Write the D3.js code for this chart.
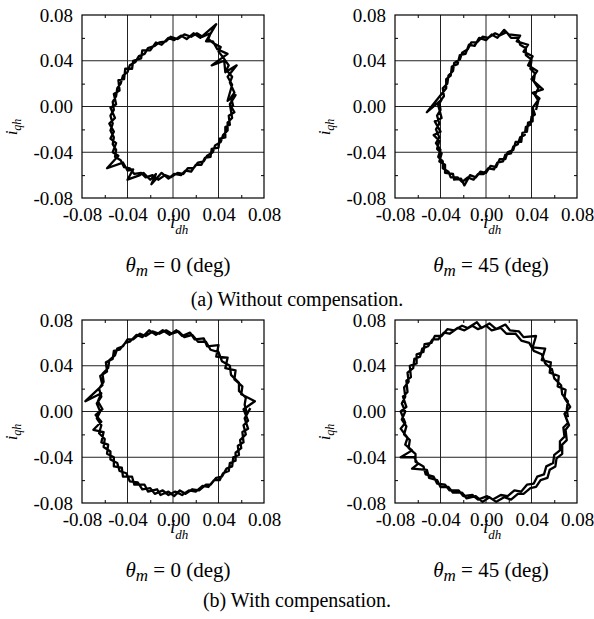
<!DOCTYPE html>
<html>
<head>
<meta charset="utf-8">
<script src="https://cdn.jsdelivr.net/npm/d3@7"></script>
<style>
  body { margin: 0; background: #fff; }
  text { font-family: "Liberation Serif", "Times New Roman", serif; fill: #000; }
</style>
</head>
<body>
<svg id="chart" width="594" height="619"></svg>
<script>
// axis ticks, shared by every panel
var ticks = [-0.08, -0.04, 0.00, 0.04, 0.08];
var tickLabels = ["-0.08", "-0.04", "0.00", "0.04", "0.08"];
var gridTicks = [-0.04, 0.00, 0.04];
var minorTicks = [-0.06, -0.02, 0.02, 0.06];
var angles = ["0", "45", "0", "45"];
var captions = ["(a) Without compensation.", "(b) With compensation."];

// (a) without compensation, theta_m = 0 deg  [i_dh, i_qh]
var noComp0 = [
  [0.053,0.000],[0.051,0.008],[0.054,0.012],[0.050,0.021],[0.052,0.026],[0.047,0.032],[0.049,0.036],[0.044,0.043],
  [0.040,0.048],[0.042,0.052],[0.036,0.055],[0.031,0.059],[0.033,0.064],[0.026,0.061],[0.021,0.064],[0.016,0.061],
  [0.010,0.063],[0.004,0.059],[-0.002,0.061],[-0.006,0.057],[-0.012,0.056],[-0.016,0.053],[-0.022,0.051],[-0.025,0.046],
  [-0.030,0.044],[-0.033,0.039],[-0.038,0.036],[-0.040,0.030],[-0.044,0.027],[-0.046,0.020],[-0.049,0.016],[-0.050,0.009],
  [-0.053,0.004],[-0.052,-0.003],[-0.055,-0.008],[-0.053,-0.015],[-0.055,-0.021],[-0.052,-0.027],[-0.053,-0.033],[-0.050,-0.038],
  [-0.051,-0.044],[-0.046,-0.047],[-0.043,-0.053],[-0.038,-0.054],[-0.034,-0.059],[-0.028,-0.058],[-0.024,-0.062],[-0.018,-0.060],
  [-0.013,-0.064],[-0.007,-0.060],[-0.002,-0.062],[0.004,-0.058],[0.009,-0.059],[0.013,-0.054],[0.018,-0.054],[0.022,-0.049],
  [0.027,-0.048],[0.030,-0.043],[0.035,-0.040],[0.037,-0.034],[0.042,-0.031],[0.044,-0.025],[0.048,-0.021],[0.048,-0.014],
  [0.052,-0.010],[0.051,-0.004],[0.050,0.002],[0.055,0.010],[0.048,0.005],[0.052,0.019],[0.048,0.026],[0.056,0.036],
  [0.046,0.030],[0.045,0.040],[0.034,0.036],[0.048,0.046],[0.039,0.050],[0.035,0.057],[0.029,0.057],[0.038,0.072],
  [0.024,0.060],[0.018,0.064],[0.012,0.059],[0.007,0.062],[0.001,0.058],[-0.004,0.060],[-0.010,0.054],[-0.015,0.056],
  [-0.020,0.049],[-0.027,0.049],[-0.028,0.042],[-0.035,0.040],[-0.036,0.033],[-0.042,0.033],[-0.043,0.024],[-0.048,0.023],
  [-0.047,0.014],[-0.052,0.011],[-0.050,0.002],[-0.055,-0.001],[-0.051,-0.010],[-0.056,-0.015],[-0.052,-0.022],[-0.055,-0.028],
  [-0.050,-0.032],[-0.053,-0.040],[-0.048,-0.043],[-0.058,-0.054],[-0.044,-0.049],[-0.040,-0.056],[-0.035,-0.055],[-0.040,-0.064],
  [-0.029,-0.060],[-0.026,-0.058],[-0.020,-0.064],[-0.015,-0.059],[-0.019,-0.068],[-0.010,-0.058],[-0.004,-0.063],[0.001,-0.059],
  [0.007,-0.060],[0.011,-0.056],[0.016,-0.057],[0.020,-0.051],[0.025,-0.051],[0.028,-0.045],[0.033,-0.044],[0.034,-0.037],
  [0.040,-0.036],[0.041,-0.028],[0.046,-0.027],[0.046,-0.018],[0.050,-0.016],[0.049,-0.008],[0.054,-0.005],[0.050,0.002]
];

// (a) without compensation, theta_m = 45 deg
var noComp45 = [
  [0.044,-0.003],[0.046,0.005],[0.043,0.010],[0.046,0.016],[0.042,0.022],[0.043,0.029],[0.039,0.033],[0.040,0.041],
  [0.035,0.045],[0.035,0.051],[0.030,0.054],[0.028,0.060],[0.022,0.060],[0.018,0.065],[0.012,0.062],[0.008,0.064],
  [0.002,0.060],[-0.003,0.061],[-0.008,0.056],[-0.013,0.056],[-0.016,0.050],[-0.021,0.047],[-0.023,0.041],[-0.028,0.038],
  [-0.029,0.031],[-0.033,0.027],[-0.034,0.020],[-0.038,0.016],[-0.037,0.009],[-0.041,0.004],[-0.040,-0.003],[-0.043,-0.008],
  [-0.041,-0.015],[-0.044,-0.020],[-0.041,-0.027],[-0.044,-0.032],[-0.040,-0.038],[-0.042,-0.044],[-0.038,-0.048],[-0.038,-0.054],
  [-0.033,-0.057],[-0.031,-0.062],[-0.025,-0.062],[-0.021,-0.066],[-0.016,-0.062],[-0.011,-0.064],[-0.007,-0.059],[-0.002,-0.059],
  [0.002,-0.054],[0.007,-0.055],[0.010,-0.049],[0.015,-0.048],[0.017,-0.042],[0.022,-0.041],[0.024,-0.035],[0.028,-0.033],
  [0.030,-0.027],[0.034,-0.025],[0.035,-0.018],[0.039,-0.016],[0.040,-0.009],[0.043,-0.007],[0.041,-0.001],[0.047,0.007],
  [0.041,0.012],[0.050,0.015],[0.040,0.024],[0.045,0.031],[0.037,0.036],[0.041,0.044],[0.033,0.048],[0.037,0.054],
  [0.027,0.057],[0.030,0.062],[0.020,0.063],[0.016,0.067],[0.010,0.060],[0.005,0.063],[0.000,0.058],[-0.006,0.060],
  [-0.010,0.053],[-0.015,0.054],[-0.018,0.046],[-0.023,0.045],[-0.025,0.037],[-0.030,0.035],[-0.031,0.027],[-0.035,0.024],
  [-0.035,0.016],[-0.052,-0.005],[-0.039,0.006],[-0.042,0.001],[-0.039,-0.010],[-0.045,-0.013],[-0.040,-0.022],[-0.046,-0.025],
  [-0.041,-0.030],[-0.043,-0.037],[-0.039,-0.041],[-0.041,-0.048],[-0.036,-0.051],[-0.036,-0.058],[-0.029,-0.059],[-0.028,-0.064],
  [-0.022,-0.063],[-0.019,-0.069],[-0.014,-0.060],[-0.009,-0.062],[-0.005,-0.057],[0.000,-0.058],[0.004,-0.052],[0.009,-0.053],
  [0.012,-0.046],[0.017,-0.046],[0.019,-0.040],[0.024,-0.038],[0.026,-0.031],[0.031,-0.031],[0.032,-0.023],[0.036,-0.022],
  [0.037,-0.014],[0.041,-0.013],[0.041,-0.001]
];

// (b) with compensation, theta_m = 0 deg
var comp0 = [
  [0.065,-0.002],[0.063,0.006],[0.064,0.012],[0.058,0.018],[0.058,0.025],[0.051,0.032],[0.050,0.040],[0.043,0.044],
  [0.040,0.052],[0.033,0.054],[0.029,0.061],[0.022,0.061],[0.017,0.067],[0.010,0.065],[0.005,0.070],[-0.001,0.068],
  [-0.006,0.071],[-0.012,0.068],[-0.018,0.070],[-0.024,0.066],[-0.029,0.068],[-0.035,0.063],[-0.040,0.063],[-0.044,0.057],
  [-0.049,0.055],[-0.051,0.049],[-0.056,0.045],[-0.057,0.038],[-0.062,0.033],[-0.061,0.026],[-0.065,0.020],[-0.063,0.013],
  [-0.067,0.007],[-0.064,0.000],[-0.067,-0.006],[-0.063,-0.012],[-0.065,-0.019],[-0.060,-0.024],[-0.061,-0.031],[-0.055,-0.035],
  [-0.055,-0.042],[-0.049,-0.045],[-0.047,-0.052],[-0.041,-0.054],[-0.038,-0.061],[-0.031,-0.062],[-0.027,-0.068],[-0.020,-0.067],
  [-0.016,-0.072],[-0.009,-0.069],[-0.004,-0.073],[0.002,-0.070],[0.008,-0.073],[0.014,-0.069],[0.020,-0.070],[0.026,-0.065],
  [0.031,-0.066],[0.036,-0.060],[0.041,-0.060],[0.044,-0.054],[0.049,-0.052],[0.050,-0.045],[0.055,-0.043],[0.055,-0.036],
  [0.060,-0.032],[0.059,-0.025],[0.064,-0.020],[0.062,-0.012],[0.066,-0.008],[0.062,0.002],[0.072,0.009],[0.060,0.015],
  [0.061,0.022],[0.054,0.028],[0.055,0.036],[0.046,0.038],[0.048,0.047],[0.038,0.048],[0.040,0.058],[0.030,0.057],
  [0.027,0.064],[0.019,0.063],[0.015,0.069],[0.008,0.066],[0.003,0.071],[-0.003,0.067],[-0.009,0.071],[-0.015,0.067],
  [-0.021,0.071],[-0.027,0.065],[-0.032,0.067],[-0.038,0.061],[-0.042,0.060],[-0.047,0.054],[-0.052,0.053],[-0.053,0.046],
  [-0.059,0.043],[-0.058,0.035],[-0.064,0.031],[-0.062,0.023],[-0.077,0.009],[-0.063,0.016],[-0.066,0.009],[-0.062,0.002],
  [-0.068,-0.003],[-0.063,-0.009],[-0.070,-0.016],[-0.061,-0.018],[-0.063,-0.027],[-0.057,-0.029],[-0.058,-0.037],[-0.052,-0.040],
  [-0.052,-0.048],[-0.045,-0.049],[-0.044,-0.057],[-0.036,-0.057],[-0.034,-0.064],[-0.025,-0.064],[-0.022,-0.070],[-0.014,-0.068],
  [-0.011,-0.073],[-0.004,-0.070],[0.001,-0.074],[0.006,-0.069],[0.011,-0.072],[0.017,-0.068],[0.023,-0.069],[0.029,-0.064],
  [0.033,-0.064],[0.038,-0.058],[0.043,-0.057],[0.047,-0.050],[0.052,-0.048],[0.053,-0.040],[0.058,-0.038],[0.057,-0.030],
  [0.062,-0.027],[0.061,-0.018],[0.066,-0.015],[0.063,-0.006],[0.068,0.003]
];

// (b) with compensation, theta_m = 45 deg
var comp45 = [
  [0.072,-0.005],[0.071,0.002],[0.072,0.009],[0.067,0.015],[0.066,0.023],[0.060,0.029],[0.058,0.037],[0.052,0.042],
  [0.049,0.050],[0.042,0.053],[0.038,0.060],[0.031,0.062],[0.026,0.068],[0.018,0.068],[0.013,0.073],[0.005,0.071],
  [0.000,0.075],[-0.007,0.072],[-0.012,0.075],[-0.019,0.071],[-0.025,0.073],[-0.032,0.068],[-0.037,0.069],[-0.042,0.063],
  [-0.047,0.063],[-0.051,0.057],[-0.056,0.055],[-0.058,0.048],[-0.063,0.046],[-0.064,0.038],[-0.069,0.034],[-0.068,0.026],
  [-0.072,0.021],[-0.071,0.013],[-0.074,0.007],[-0.071,0.000],[-0.074,-0.007],[-0.070,-0.013],[-0.072,-0.020],[-0.067,-0.025],
  [-0.068,-0.032],[-0.062,-0.037],[-0.062,-0.044],[-0.055,-0.048],[-0.053,-0.055],[-0.046,-0.057],[-0.043,-0.063],[-0.036,-0.064],
  [-0.032,-0.069],[-0.024,-0.069],[-0.020,-0.074],[-0.012,-0.073],[-0.007,-0.077],[0.001,-0.074],[0.006,-0.077],[0.013,-0.073],
  [0.019,-0.074],[0.025,-0.069],[0.031,-0.070],[0.036,-0.064],[0.042,-0.063],[0.045,-0.057],[0.051,-0.055],[0.053,-0.048],
  [0.059,-0.045],[0.060,-0.038],[0.065,-0.034],[0.065,-0.026],[0.069,-0.022],[0.068,-0.014],[0.072,-0.010],[0.069,-0.002],
  [0.074,0.004],[0.069,0.012],[0.070,0.019],[0.063,0.022],[0.064,0.031],[0.056,0.034],[0.057,0.043],[0.049,0.045],
  [0.052,0.055],[0.041,0.056],[0.044,0.066],[0.033,0.065],[0.029,0.070],[0.021,0.071],[0.017,0.076],[0.009,0.072],
  [0.003,0.077],[-0.004,0.073],[-0.008,0.078],[-0.016,0.073],[-0.021,0.075],[-0.028,0.071],[-0.034,0.072],[-0.039,0.066],
  [-0.045,0.066],[-0.048,0.060],[-0.054,0.059],[-0.055,0.052],[-0.061,0.050],[-0.061,0.042],[-0.067,0.040],[-0.066,0.030],
  [-0.070,0.027],[-0.069,0.017],[-0.073,0.013],[-0.070,0.004],[-0.075,0.000],[-0.071,-0.010],[-0.075,-0.015],[-0.069,-0.023],
  [-0.071,-0.029],[-0.065,-0.034],[-0.075,-0.040],[-0.063,-0.040],[-0.060,-0.046],[-0.065,-0.050],[-0.052,-0.051],[-0.050,-0.058],
  [-0.043,-0.060],[-0.040,-0.066],[-0.033,-0.066],[-0.029,-0.071],[-0.021,-0.071],[-0.017,-0.076],[-0.009,-0.074],[-0.003,-0.079],
  [0.003,-0.075],[0.009,-0.079],[0.016,-0.075],[0.022,-0.077],[0.028,-0.072],[0.033,-0.072],[0.039,-0.067],[0.044,-0.066],
  [0.048,-0.060],[0.054,-0.058],[0.056,-0.051],[0.061,-0.048],[0.062,-0.041],[0.067,-0.037],[0.067,-0.029],[0.071,-0.025],
  [0.070,-0.016],[0.073,-0.012],[0.069,-0.002]
];

var panels = [
  { data: noComp0,  left: 82,  top: 15,  angle: angles[0] },
  { data: noComp45, left: 395, top: 15,  angle: angles[1] },
  { data: comp0,    left: 82,  top: 320, angle: angles[2] },
  { data: comp45,   left: 395, top: 320, angle: angles[3] }
];

var W = 182, H = 183;
var svg = d3.select("#chart");

var x = d3.scaleLinear().domain([-0.08, 0.08]).range([0, W]);
var y = d3.scaleLinear().domain([-0.08, 0.08]).range([H, 0]);

var line = d3.line()
    .x(function (d) { return x(d[0]); })
    .y(function (d) { return y(d[1]); });

function label(i) { return tickLabels[i]; }

panels.forEach(function (p) {
    var g = svg.append("g")
        .attr("transform", "translate(" + p.left + "," + p.top + ")");

    // grid
    g.append("g").selectAll("line")
        .data(gridTicks)
      .enter().append("line")
        .attr("x1", function (d) { return x(d); })
        .attr("x2", function (d) { return x(d); })
        .attr("y1", 0).attr("y2", H)
        .attr("stroke", "#222").attr("stroke-width", 1);
    g.append("g").selectAll("line")
        .data(gridTicks)
      .enter().append("line")
        .attr("y1", function (d) { return y(d); })
        .attr("y2", function (d) { return y(d); })
        .attr("x1", 0).attr("x2", W)
        .attr("stroke", "#222").attr("stroke-width", 1);

    // trace
    g.append("path")
        .datum(p.data)
        .attr("d", line)
        .attr("fill", "none")
        .attr("stroke", "#000")
        .attr("stroke-width", 2.3)
        .attr("stroke-linejoin", "round");

    // frame
    g.append("rect")
        .attr("width", W).attr("height", H)
        .attr("fill", "none").attr("stroke", "#000").attr("stroke-width", 1.2);

    // minor ticks pointing inward on all sides
    [[d3.axisBottom(x), "translate(0," + H + ")"],
     [d3.axisTop(x), null],
     [d3.axisLeft(y), null],
     [d3.axisRight(y), "translate(" + W + ",0)"]].forEach(function (a) {
        var ax = g.append("g")
            .call(a[0].tickValues(minorTicks).tickSize(-3).tickFormat(""));
        if (a[1]) ax.attr("transform", a[1]);
        ax.select(".domain").remove();
        ax.selectAll("line").attr("stroke", "#000");
    });

    // tick labels
    var xa = g.append("g")
        .attr("transform", "translate(0," + H + ")")
        .call(d3.axisBottom(x).tickValues(ticks).tickSize(0).tickPadding(10)
            .tickFormat(function (d, i) { return label(i); }));
    var ya = g.append("g")
        .call(d3.axisLeft(y).tickValues(ticks).tickSize(0).tickPadding(9)
            .tickFormat(function (d, i) { return label(i); }));
    [xa, ya].forEach(function (a) {
        a.select(".domain").remove();
        a.selectAll("text")
            .style("font-family", '"Liberation Serif", "Times New Roman", serif')
            .style("font-size", "19px").attr("fill", "#000");
    });

    // axis titles
    var xt = g.append("text")
        .attr("x", 88).attr("y", H + 30)
        .style("font-size", "19px");
    xt.append("tspan").style("font-style", "italic").text("i");
    xt.append("tspan").style("font-style", "italic").style("font-size", "13px")
        .attr("dy", 6).text("dh");

    var yt = g.append("text")
        .attr("transform", "translate(-65," + 112 + ") rotate(-90)")
        .attr("text-anchor", "middle")
        .style("font-size", "17px");
    yt.append("tspan").style("font-style", "italic").text("i");
    yt.append("tspan").style("font-style", "italic").style("font-size", "12px")
        .attr("dy", 4).text("qh");

    // angle caption
    var ct = g.append("text")
        .attr("x", W / 2 + 5).attr("y", H + 74)
        .attr("text-anchor", "middle")
        .style("font-size", "21px");
    ct.append("tspan").style("font-style", "italic").text("\u03b8");
    ct.append("tspan").style("font-style", "italic").style("font-size", "17px")
        .attr("dy", 4).text("m");
    ct.append("tspan").attr("dy", -4).text(" = " + p.angle + " (deg)");
});

// sub-figure captions
svg.selectAll(".cap")
    .data(captions)
  .enter().append("text")
    .attr("class", "cap")
    .attr("x", 297)
    .attr("y", function (d, i) { return i === 0 ? 306 : 607; })
    .attr("text-anchor", "middle")
    .style("font-size", "20px")
    .text(function (d) { return d; });
</script>
</body>
</html>
